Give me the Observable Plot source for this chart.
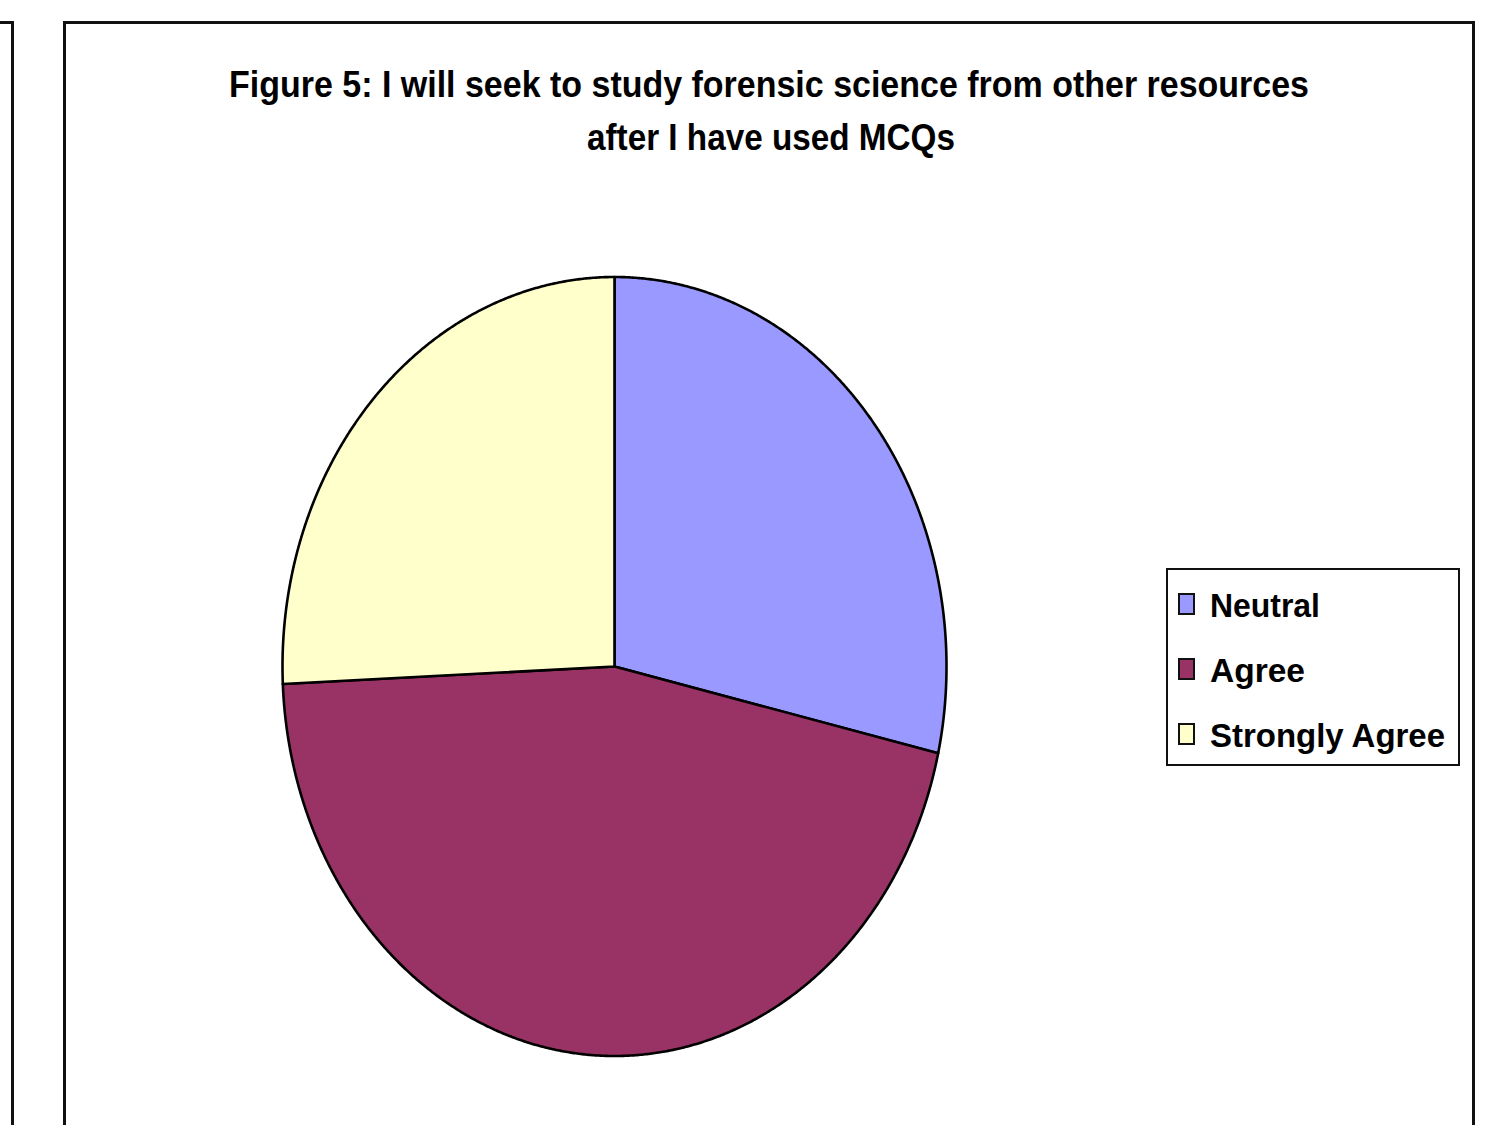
<!DOCTYPE html>
<html>
<head>
<meta charset="utf-8">
<script src="https://cdn.jsdelivr.net/npm/d3@7"></script>
<script src="https://cdn.jsdelivr.net/npm/@observablehq/plot@0.6"></script>
<style>
  html, body { margin: 0; padding: 0; background: #fff; }
  body { width: 1500px; height: 1125px; position: relative; overflow: hidden;
         font-family: "Liberation Sans", Arial, sans-serif; }
  .abs { position: absolute; }
  .frame { border: 3px solid #111; box-sizing: border-box; }
  .fit { white-space: nowrap; font-weight: bold; line-height: 1; }
  .fit span { display: inline-block; transform-origin: 0 0; }
  #chart { position: absolute; left: 0; top: 0; }
</style>
</head>
<body>
<div class="abs frame" style="left:-20px; top:21px; width:34px; height:1200px;"></div>
<div class="abs frame" style="left:63px; top:21px; width:1412px; height:1200px;"></div>
<div id="chart"></div>
<script>
// ---- data ----
const categories = ["Neutral", "Agree", "Strongly Agree"];
const counts = [10, 16, 9];
const colors = ["#9999FF", "#993366", "#FFFFCC"];
const titleLines = [
  "Figure 5: I will seek to study forensic science from other resources",
  "after I have used MCQs"
];

// ---- build slice outlines (unit circle; scales stretch into an ellipse) ----
const arcs = d3.pie().sort(null).startAngle(0).endAngle(2 * Math.PI)(counts);
const pts = [];
arcs.forEach((a, i) => {
  const label = categories[i];
  pts.push({label, x: 0, y: 0});
  const n = Math.max(2, Math.ceil((a.endAngle - a.startAngle) / 0.005));
  for (let k = 0; k <= n; k++) {
    const t = a.startAngle + (a.endAngle - a.startAngle) * k / n;
    pts.push({label, x: Math.sin(t), y: Math.cos(t)});
  }
  pts.push({label, x: 0, y: 0});
});

const chart = Plot.plot({
  width: 1500,
  height: 1125,
  margin: 0,
  x: {domain: [-1, 1], range: [282, 946], axis: null},
  y: {domain: [-1, 1], range: [1055.5, 276.5], axis: null},
  color: {domain: categories, range: colors},
  style: {background: "transparent", overflow: "visible"},
  marks: [
    Plot.line(pts, {
      x: "x", y: "y", z: "label", fill: "label",
      stroke: "#000", strokeWidth: 2.6, strokeLinejoin: "round", curve: "linear"
    })
  ]
});
document.getElementById("chart").appendChild(chart);

// ---- text helpers ----
function fitText(text, left, baseline, targetW, fs) {
  const d = document.createElement("div");
  d.className = "abs fit";
  d.style.left = left + "px";
  d.style.top = (baseline - 0.8465 * fs) + "px";
  d.style.fontSize = fs + "px";
  const s = document.createElement("span");
  s.textContent = text;
  d.appendChild(s);
  document.body.appendChild(d);
  const w = s.getBoundingClientRect().width;
  s.style.transform = `scaleX(${targetW / w})`;
  return d;
}

// title
fitText(titleLines[0], 229, 97, 1080, 37);
fitText(titleLines[1], 587, 150, 368, 37);

// legend
const box = document.createElement("div");
box.className = "abs";
box.style.cssText = "left:1166px; top:568px; width:294px; height:198px; border:2px solid #111; box-sizing:border-box; background:#fff;";
document.body.appendChild(box);
const legendWidths = [110, 95, 235];
categories.forEach((c, i) => {
  const base = 617 + i * 65;
  const sw = document.createElement("div");
  sw.className = "abs";
  sw.style.cssText = `left:1178px; top:${base - 24}px; width:17px; height:22px; box-sizing:border-box; border:2px solid #111; background:${colors[i]};`;
  document.body.appendChild(sw);
  fitText(c, 1210, base, legendWidths[i], 33);
});
</script>
</body>
</html>
